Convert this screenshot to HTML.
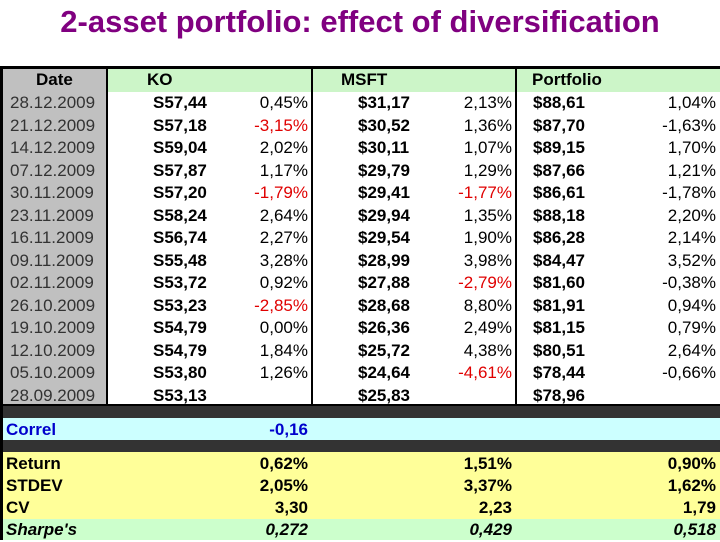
<!DOCTYPE html>
<html><head><meta charset="utf-8">
<style>
body{margin:0;width:720px;height:540px;overflow:hidden;background:#fff;font-family:"Liberation Sans",sans-serif;position:relative}
#title{position:absolute;left:0;width:720px;top:4px;text-align:center;color:#800080;font-weight:bold;font-size:31px;white-space:nowrap}
.c{position:absolute;top:0;height:100%;white-space:nowrap}
.lt{text-align:left}.rt{text-align:right}
.b{font-weight:bold}.red{color:#e00000}
</style></head><body>
<div id="title">2-asset portfolio: effect of diversification</div>
<div id="tbl" style="position:absolute;left:0;top:0;width:720px;height:540px"></div>
<script>
const dates=["28.12.2009","21.12.2009","14.12.2009","07.12.2009","30.11.2009","23.11.2009","16.11.2009","09.11.2009","02.11.2009","26.10.2009","19.10.2009","12.10.2009","05.10.2009","28.09.2009"];
const koP=["S57,44","S57,18","S59,04","S57,87","S57,20","S58,24","S56,74","S55,48","S53,72","S53,23","S54,79","S54,79","S53,80","S53,13"];
const koR=["0,45%","-3,15%","2,02%","1,17%","-1,79%","2,64%","2,27%","3,28%","0,92%","-2,85%","0,00%","1,84%","1,26%",""];
const msP=["$31,17","$30,52","$30,11","$29,79","$29,41","$29,94","$29,54","$28,99","$27,88","$28,68","$26,36","$25,72","$24,64","$25,83"];
const msR=["2,13%","1,36%","1,07%","1,29%","-1,77%","1,35%","1,90%","3,98%","-2,79%","8,80%","2,49%","4,38%","-4,61%",""];
const pfP=["$88,61","$87,70","$89,15","$87,66","$86,61","$88,18","$86,28","$84,47","$81,60","$81,91","$81,15","$80,51","$78,44","$78,96"];
const pfR=["1,04%","-1,63%","1,70%","1,21%","-1,78%","2,20%","2,14%","3,52%","-0,38%","0,94%","0,79%","2,64%","-0,66%",""];
const redKO=[1,4,9], redMS=[4,8,12];
const T=document.getElementById('tbl');
function box(x,y,w,h,bg,name){const d=document.createElement('div');d.style.cssText=`position:absolute;left:${x}px;top:${y}px;width:${w}px;height:${h}px;background:${bg}`;


T.appendChild(d);return d;}
function txt(x,y,w,s,cls,style,name){const d=document.createElement('div');d.className='c '+cls;d.textContent=s;d.style.cssText=`left:${x}px;top:${y}px;width:${w}px;height:22.5px;line-height:22.5px;font-size:17px;${style||''}`;


T.appendChild(d);return d;}
box(3,69,104,337,'#c0c0c0','date-column-bg');
box(107,69,613,23,'#ccf5c8','header-bg');
box(0,406,720,12,'#333','separator-1');
box(3,418,717,22,'#ccffff','correl-row-bg');
box(0,440,720,12,'#333','separator-2');
box(3,452,717,67,'#ffff99','stats-bg');
box(3,519,717,21,'#ccffcc','sharpe-bg');
box(0,66,720,3,'#000','top-border');
box(0,66,3,474,'#000','left-border');
box(106,69,2,337,'#000','date-divider');
box(311,69,2,337,'#000','ko-divider');
box(515,69,2,337,'#000','msft-divider');
box(0,404,720,2,'#000','table-bottom-border');
txt(36,69,70,'Date','b lt','','header-date');
txt(147,69,80,'KO','b lt','','header-ko');
txt(341,69,80,'MSFT','b lt','','header-msft');
txt(532,69,100,'Portfolio','b lt','','header-portfolio');
for(let i=0;i<dates.length;i++){
 const y=92+i*22.5;
 txt(10,y,96,dates[i],'lt','color:#333','date-cell');
 txt(153,y,80,koP[i],'b lt','','ko-price');
 txt(200,y,108,koR[i],'rt'+(redKO.includes(i)?' red':''),'','ko-return');
 txt(358,y,80,msP[i],'b lt','','msft-price');
 txt(400,y,112,msR[i],'rt'+(redMS.includes(i)?' red':''),'','msft-return');
 txt(533,y,80,pfP[i],'b lt','','portfolio-price');
 txt(600,y,116,pfR[i],'rt','','portfolio-return');
}
txt(6,419,100,'Correl','b lt','color:#0000cc','correl-label');
txt(200,419,108,'-0,16','b rt','color:#0000cc','correl-value');
const statL=["Return","STDEV","CV"],statKO=["0,62%","2,05%","3,30"],statMS=["1,51%","3,37%","2,23"],statPF=["0,90%","1,62%","1,79"];
for(let i=0;i<3;i++){const y=453+i*22;
 txt(6,y,100,statL[i],'b lt','','stat-label');
 txt(200,y,108,statKO[i],'b rt','','stat-ko');
 txt(400,y,112,statMS[i],'b rt','','stat-msft');
 txt(600,y,116,statPF[i],'b rt','','stat-portfolio');}
txt(6,519,100,"Sharpe's",'b lt','font-style:italic','sharpe-label');
txt(200,519,108,'0,272','b rt','font-style:italic','sharpe-ko');
txt(400,519,112,'0,429','b rt','font-style:italic','sharpe-msft');
txt(600,519,116,'0,518','b rt','font-style:italic','sharpe-portfolio');
</script>
</body></html>
